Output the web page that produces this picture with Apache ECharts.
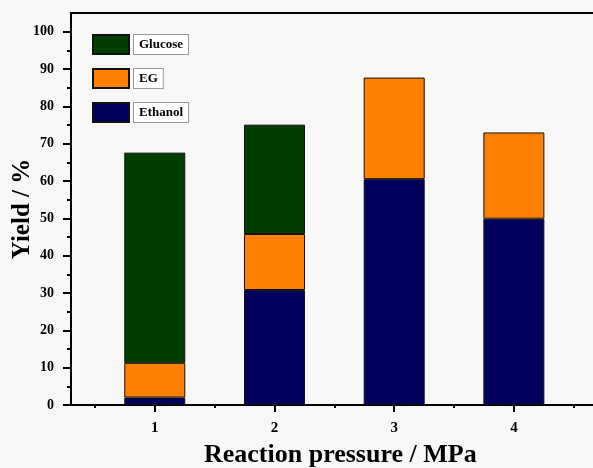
<!DOCTYPE html>
<html>
<head>
<meta charset="utf-8">
<script src="https://cdn.jsdelivr.net/npm/echarts@6/dist/echarts.min.js"></script>
<style>
  html, body { margin: 0; padding: 0; background: #f7f7f5; }
  #chart { width: 593px; height: 468px; }
</style>
</head>
<body>
<div id="chart"></div>
<script>
// Reaction pressure (MPa) and stacked yields (%)
const pressures = ['1', '2', '3', '4'];
const ethanol = [2.0, 30.8, 60.5, 49.9];
const eg = [9.3, 15.0, 27.2, 23.1];
const glucose = [56.3, 29.3, null, null];

const xTickValues = [1, 2, 3, 4];
const xMinorTickValues = [0.5, 1.5, 2.5, 3.5, 4.5];
const yTickValues = [0, 10, 20, 30, 40, 50, 60, 70, 80, 90, 100];
const yMinorTickValues = [5, 15, 25, 35, 45, 55, 65, 75, 85, 95];

const serif = '"Liberation Serif", "Times New Roman", serif';
const barStyle = color => ({ color: color, borderColor: '#111', borderWidth: 1 });
const orNone = vals => vals.map(v => (v === null ? '-' : v));

// frame grid spans 0.3..4.7 on the pressure scale; bar grid covers 0.5..4.5
const unit = 119.7;
const frameLeft = 71;
const barLeft = frameLeft + 0.2 * unit;
const barRight = 593 - (barLeft + 4 * unit);

const chart = echarts.init(document.getElementById('chart'));
chart.setOption({
  backgroundColor: '#f7f7f5',
  animation: false,
  grid: [{
    left: frameLeft, top: 13, right: 593 - (frameLeft + 4.4 * unit), bottom: 63,
    outerBoundsMode: 'none',
    show: true, borderColor: '#000', borderWidth: 2, backgroundColor: 'transparent'
  }, {
    left: barLeft, top: 13, right: barRight, bottom: 63,
    outerBoundsMode: 'none'
  }],
  legend: {
    orient: 'vertical',
    left: 92, top: 34, padding: 0,
    itemWidth: 36, itemHeight: 19, itemGap: 13,
    data: ['Glucose', 'EG', 'Ethanol'],
    icon: 'rect',
    textStyle: {
      fontFamily: serif, fontWeight: 'bold', fontSize: 13, color: '#000',
      backgroundColor: '#fff', borderColor: '#999', borderWidth: 1,
      padding: [2, 5, 2, 5], lineHeight: 15
    }
  },
  xAxis: [{
    gridIndex: 0, type: 'value', min: 0.3, max: 4.7,
    name: 'Reaction pressure / MPa', nameLocation: 'middle', nameGap: 37, nameMoveOverlap: false,
    nameTextStyle: { fontFamily: serif, fontWeight: 'bold', fontSize: 26, color: '#000', padding: [0, 0, 0, 12] },
    axisLine: { lineStyle: { color: '#000', width: 2 } },
    axisTick: { customValues: xTickValues, length: 7, lineStyle: { color: '#000', width: 2 } },
    axisLabel: { customValues: xTickValues, margin: 16, fontFamily: serif, fontWeight: 'bold', fontSize: 15, color: '#000' },
    splitLine: { show: false }
  }, {
    gridIndex: 0, type: 'value', min: 0.3, max: 4.7, position: 'bottom',
    axisLine: { show: false },
    axisTick: { customValues: xMinorTickValues, length: 3, lineStyle: { color: '#000', width: 2 } },
    axisLabel: { show: false },
    splitLine: { show: false }
  }, {
    gridIndex: 1, type: 'category', data: pressures,
    axisLine: { show: false }, axisTick: { show: false }, axisLabel: { show: false }
  }],
  yAxis: [{
    gridIndex: 0, type: 'value', min: 0, max: 105,
    name: 'Yield / %', nameLocation: 'middle', nameGap: 36, nameRotate: 90, nameMoveOverlap: false,
    nameTextStyle: { fontFamily: serif, fontWeight: 'bold', fontSize: 25, color: '#000' },
    axisLine: { show: true, lineStyle: { color: '#000', width: 2 } },
    axisTick: { show: true, customValues: yTickValues, length: 8, lineStyle: { color: '#000', width: 2 } },
    axisLabel: { customValues: yTickValues, margin: 17, fontFamily: serif, fontWeight: 'bold', fontSize: 14, color: '#000' },
    splitLine: { show: false }
  }, {
    gridIndex: 0, type: 'value', min: 0, max: 105, position: 'left',
    axisLine: { show: false },
    axisTick: { show: true, customValues: yMinorTickValues, length: 4, lineStyle: { color: '#000', width: 2 } },
    axisLabel: { show: false },
    splitLine: { show: false }
  }, {
    gridIndex: 1, type: 'value', min: 0, max: 105,
    axisLine: { show: false }, axisTick: { show: false }, axisLabel: { show: false }, splitLine: { show: false }
  }],
  series: [
    { name: 'Ethanol', type: 'bar', stack: 'yield', xAxisIndex: 2, yAxisIndex: 2, barWidth: 61, data: ethanol, itemStyle: barStyle('#00005c') },
    { name: 'EG', type: 'bar', stack: 'yield', xAxisIndex: 2, yAxisIndex: 2, barWidth: 61, data: eg, itemStyle: barStyle('#ff8000') },
    { name: 'Glucose', type: 'bar', stack: 'yield', xAxisIndex: 2, yAxisIndex: 2, barWidth: 61, data: orNone(glucose), itemStyle: barStyle('#003f00') }
  ]
});
</script>
</body>
</html>
